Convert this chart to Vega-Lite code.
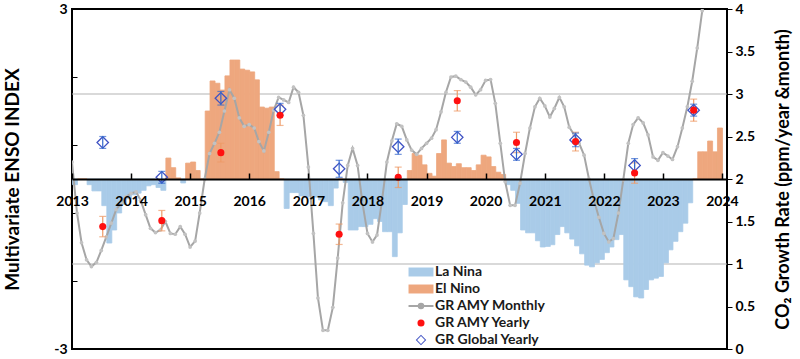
{
  "$schema": "https://vega.github.io/schema/vega-lite/v6.json",
  "width": 655,
  "height": 340,
  "autosize": {"type": "none"},
  "padding": {"left": 72, "top": 9, "right": 73, "bottom": 10},
  "background": "white",
  "config": {
    "view": {"stroke": "black", "strokeWidth": 2},
    "font": "Lato",
    "bar": {"binSpacing": 0},
    "axis": {"labelFont": "Lato", "titleFont": "Lato", "labelColor": "black", "titleColor": "black"}
  },
  "datasets": {
    "mei": [
      {"date": "2013-01", "mei": -0.1}, {"date": "2013-02", "mei": 0}, {"date": "2013-03", "mei": 0}, {"date": "2013-04", "mei": -0.1}, {"date": "2013-05", "mei": -0.21}, {"date": "2013-06", "mei": -0.21}, {"date": "2013-07", "mei": -0.47}, {"date": "2013-08", "mei": -1.13}, {"date": "2013-09", "mei": -0.9}, {"date": "2013-10", "mei": -0.6}, {"date": "2013-11", "mei": -0.45}, {"date": "2013-12", "mei": -0.35},
      {"date": "2014-01", "mei": -0.28}, {"date": "2014-02", "mei": -0.25}, {"date": "2014-03", "mei": -0.2}, {"date": "2014-04", "mei": -0.12}, {"date": "2014-05", "mei": -0.1}, {"date": "2014-06", "mei": -0.15}, {"date": "2014-07", "mei": -0.2}, {"date": "2014-08", "mei": 0.37}, {"date": "2014-09", "mei": 0.2}, {"date": "2014-10", "mei": 0.02}, {"date": "2014-11", "mei": -0.07}, {"date": "2014-12", "mei": 0.28},
      {"date": "2015-01", "mei": 0.3}, {"date": "2015-02", "mei": 0.15}, {"date": "2015-03", "mei": 0}, {"date": "2015-04", "mei": 1.2}, {"date": "2015-05", "mei": 1.73}, {"date": "2015-06", "mei": 1.69}, {"date": "2015-07", "mei": 1.57}, {"date": "2015-08", "mei": 1.82}, {"date": "2015-09", "mei": 2.1}, {"date": "2015-10", "mei": 2.1}, {"date": "2015-11", "mei": 1.94}, {"date": "2015-12", "mei": 1.92},
      {"date": "2016-01", "mei": 1.89}, {"date": "2016-02", "mei": 1.75}, {"date": "2016-03", "mei": 1.27}, {"date": "2016-04", "mei": 1.25}, {"date": "2016-05", "mei": 1.27}, {"date": "2016-06", "mei": 0.13}, {"date": "2016-07", "mei": 0}, {"date": "2016-08", "mei": -0.52}, {"date": "2016-09", "mei": -0.24}, {"date": "2016-10", "mei": -0.24}, {"date": "2016-11", "mei": -0.3}, {"date": "2016-12", "mei": -0.32},
      {"date": "2017-01", "mei": -0.3}, {"date": "2017-02", "mei": -0.32}, {"date": "2017-03", "mei": -0.37}, {"date": "2017-04", "mei": -0.4}, {"date": "2017-05", "mei": -0.47}, {"date": "2017-06", "mei": -0.16}, {"date": "2017-07", "mei": 0}, {"date": "2017-08", "mei": -0.06}, {"date": "2017-09", "mei": -0.9}, {"date": "2017-10", "mei": -0.9}, {"date": "2017-11", "mei": -0.84}, {"date": "2017-12", "mei": -0.84},
      {"date": "2018-01", "mei": -0.8}, {"date": "2018-02", "mei": -0.7}, {"date": "2018-03", "mei": -0.75}, {"date": "2018-04", "mei": -0.93}, {"date": "2018-05", "mei": -0.93}, {"date": "2018-06", "mei": -1.37}, {"date": "2018-07", "mei": -0.95}, {"date": "2018-08", "mei": -0.45}, {"date": "2018-09", "mei": 0.15}, {"date": "2018-10", "mei": 0.45}, {"date": "2018-11", "mei": 0.42}, {"date": "2018-12", "mei": 0.25},
      {"date": "2019-01", "mei": 0.1}, {"date": "2019-02", "mei": 0.05}, {"date": "2019-03", "mei": 0.45}, {"date": "2019-04", "mei": 0.69}, {"date": "2019-05", "mei": 0.28}, {"date": "2019-06", "mei": 0.22}, {"date": "2019-07", "mei": 0.27}, {"date": "2019-08", "mei": 0.2}, {"date": "2019-09", "mei": 0.2}, {"date": "2019-10", "mei": 0.15}, {"date": "2019-11", "mei": 0.25}, {"date": "2019-12", "mei": 0.42},
      {"date": "2020-01", "mei": 0.39}, {"date": "2020-02", "mei": 0.22}, {"date": "2020-03", "mei": 0.12}, {"date": "2020-04", "mei": 0.08}, {"date": "2020-05", "mei": -0.1}, {"date": "2020-06", "mei": -0.2}, {"date": "2020-07", "mei": -0.43}, {"date": "2020-08", "mei": -0.9}, {"date": "2020-09", "mei": -0.95}, {"date": "2020-10", "mei": -0.95}, {"date": "2020-11", "mei": -1.09}, {"date": "2020-12", "mei": -1.2},
      {"date": "2021-01", "mei": -1.19}, {"date": "2021-02", "mei": -1.16}, {"date": "2021-03", "mei": -0.98}, {"date": "2021-04", "mei": -0.84}, {"date": "2021-05", "mei": -0.95}, {"date": "2021-06", "mei": -1.06}, {"date": "2021-07", "mei": -1.18}, {"date": "2021-08", "mei": -1.32}, {"date": "2021-09", "mei": -1.52}, {"date": "2021-10", "mei": -1.55}, {"date": "2021-11", "mei": -1.48}, {"date": "2021-12", "mei": -1.42},
      {"date": "2022-01", "mei": -1.3}, {"date": "2022-02", "mei": -1.2}, {"date": "2022-03", "mei": -1.07}, {"date": "2022-04", "mei": -0.98}, {"date": "2022-05", "mei": -1.78}, {"date": "2022-06", "mei": -1.9}, {"date": "2022-07", "mei": -2.08}, {"date": "2022-08", "mei": -2.1}, {"date": "2022-09", "mei": -1.95}, {"date": "2022-10", "mei": -1.78}, {"date": "2022-11", "mei": -1.75}, {"date": "2022-12", "mei": -1.72},
      {"date": "2023-01", "mei": -1.48}, {"date": "2023-02", "mei": -1.25}, {"date": "2023-03", "mei": -1.1}, {"date": "2023-04", "mei": -0.93}, {"date": "2023-05", "mei": -0.78}, {"date": "2023-06", "mei": -0.42}, {"date": "2023-07", "mei": 0}, {"date": "2023-08", "mei": 0.48}, {"date": "2023-09", "mei": 0.48}, {"date": "2023-10", "mei": 0.67}, {"date": "2023-11", "mei": 0.48}, {"date": "2023-12", "mei": 0.9}
    ],
    "gr": [
      {"date": "2013-01-01", "gr": 2.2}, {"date": "2013-02-01", "gr": 1.6}, {"date": "2013-03-01", "gr": 1.25}, {"date": "2013-04-01", "gr": 1.05}, {"date": "2013-05-01", "gr": 0.97}, {"date": "2013-06-01", "gr": 1.02}, {"date": "2013-07-01", "gr": 1.16}, {"date": "2013-08-01", "gr": 1.32}, {"date": "2013-09-01", "gr": 1.48}, {"date": "2013-10-01", "gr": 1.64}, {"date": "2013-11-01", "gr": 1.72}, {"date": "2013-12-01", "gr": 1.79},
      {"date": "2014-01-01", "gr": 1.83}, {"date": "2014-02-01", "gr": 1.85}, {"date": "2014-03-01", "gr": 1.75}, {"date": "2014-04-01", "gr": 1.58}, {"date": "2014-05-01", "gr": 1.42}, {"date": "2014-06-01", "gr": 1.37}, {"date": "2014-07-01", "gr": 1.4}, {"date": "2014-08-01", "gr": 1.5}, {"date": "2014-09-01", "gr": 1.36}, {"date": "2014-10-01", "gr": 1.35}, {"date": "2014-11-01", "gr": 1.44}, {"date": "2014-12-01", "gr": 1.35},
      {"date": "2015-01-01", "gr": 1.2}, {"date": "2015-02-01", "gr": 1.27}, {"date": "2015-03-01", "gr": 1.6}, {"date": "2015-04-01", "gr": 2.0}, {"date": "2015-05-01", "gr": 2.3}, {"date": "2015-06-01", "gr": 2.42}, {"date": "2015-07-01", "gr": 2.55}, {"date": "2015-08-01", "gr": 2.8}, {"date": "2015-09-01", "gr": 3.05}, {"date": "2015-10-01", "gr": 2.95}, {"date": "2015-11-01", "gr": 2.72}, {"date": "2015-12-01", "gr": 2.62},
      {"date": "2016-01-01", "gr": 2.64}, {"date": "2016-02-01", "gr": 2.6}, {"date": "2016-03-01", "gr": 2.44}, {"date": "2016-04-01", "gr": 2.33}, {"date": "2016-05-01", "gr": 2.55}, {"date": "2016-06-01", "gr": 2.81}, {"date": "2016-07-01", "gr": 2.96}, {"date": "2016-08-01", "gr": 2.93}, {"date": "2016-09-01", "gr": 2.9}, {"date": "2016-10-01", "gr": 3.08}, {"date": "2016-11-01", "gr": 3.02}, {"date": "2016-12-01", "gr": 2.75},
      {"date": "2017-01-01", "gr": 2.14}, {"date": "2017-02-01", "gr": 1.36}, {"date": "2017-03-01", "gr": 0.6}, {"date": "2017-04-01", "gr": 0.22}, {"date": "2017-05-01", "gr": 0.22}, {"date": "2017-06-01", "gr": 0.49}, {"date": "2017-07-01", "gr": 1.07}, {"date": "2017-08-01", "gr": 1.72}, {"date": "2017-09-01", "gr": 2.16}, {"date": "2017-10-01", "gr": 2.36}, {"date": "2017-11-01", "gr": 2.16}, {"date": "2017-12-01", "gr": 1.72},
      {"date": "2018-01-01", "gr": 1.36}, {"date": "2018-02-01", "gr": 1.26}, {"date": "2018-03-01", "gr": 1.34}, {"date": "2018-04-01", "gr": 1.75}, {"date": "2018-05-01", "gr": 2.2}, {"date": "2018-06-01", "gr": 2.45}, {"date": "2018-07-01", "gr": 2.65}, {"date": "2018-08-01", "gr": 2.62}, {"date": "2018-09-01", "gr": 2.46}, {"date": "2018-10-01", "gr": 2.34}, {"date": "2018-11-01", "gr": 2.29}, {"date": "2018-12-01", "gr": 2.36},
      {"date": "2019-01-01", "gr": 2.42}, {"date": "2019-02-01", "gr": 2.48}, {"date": "2019-03-01", "gr": 2.58}, {"date": "2019-04-01", "gr": 2.79}, {"date": "2019-05-01", "gr": 3.02}, {"date": "2019-06-01", "gr": 3.2}, {"date": "2019-07-01", "gr": 3.21}, {"date": "2019-08-01", "gr": 3.17}, {"date": "2019-09-01", "gr": 3.14}, {"date": "2019-10-01", "gr": 3.08}, {"date": "2019-11-01", "gr": 2.99}, {"date": "2019-12-01", "gr": 3.05},
      {"date": "2020-01-01", "gr": 3.16}, {"date": "2020-02-01", "gr": 3.17}, {"date": "2020-03-01", "gr": 2.89}, {"date": "2020-04-01", "gr": 2.42}, {"date": "2020-05-01", "gr": 1.97}, {"date": "2020-06-01", "gr": 1.69}, {"date": "2020-07-01", "gr": 1.69}, {"date": "2020-08-01", "gr": 1.95}, {"date": "2020-09-01", "gr": 2.3}, {"date": "2020-10-01", "gr": 2.6}, {"date": "2020-11-01", "gr": 2.85}, {"date": "2020-12-01", "gr": 2.95},
      {"date": "2021-01-01", "gr": 2.86}, {"date": "2021-02-01", "gr": 2.73}, {"date": "2021-03-01", "gr": 2.83}, {"date": "2021-04-01", "gr": 2.96}, {"date": "2021-05-01", "gr": 2.85}, {"date": "2021-06-01", "gr": 2.61}, {"date": "2021-07-01", "gr": 2.52}, {"date": "2021-08-01", "gr": 2.42}, {"date": "2021-09-01", "gr": 2.28}, {"date": "2021-10-01", "gr": 2.0}, {"date": "2021-11-01", "gr": 1.75}, {"date": "2021-12-01", "gr": 1.55},
      {"date": "2022-01-01", "gr": 1.36}, {"date": "2022-02-01", "gr": 1.26}, {"date": "2022-03-01", "gr": 1.3}, {"date": "2022-04-01", "gr": 1.6}, {"date": "2022-05-01", "gr": 1.99}, {"date": "2022-06-01", "gr": 2.42}, {"date": "2022-07-01", "gr": 2.64}, {"date": "2022-08-01", "gr": 2.72}, {"date": "2022-09-01", "gr": 2.66}, {"date": "2022-10-01", "gr": 2.52}, {"date": "2022-11-01", "gr": 2.26}, {"date": "2022-12-01", "gr": 2.22},
      {"date": "2023-01-01", "gr": 2.31}, {"date": "2023-02-01", "gr": 2.27}, {"date": "2023-03-01", "gr": 2.23}, {"date": "2023-04-01", "gr": 2.38}, {"date": "2023-05-01", "gr": 2.6}, {"date": "2023-06-01", "gr": 2.85}, {"date": "2023-07-01", "gr": 3.15}, {"date": "2023-08-01", "gr": 3.54}, {"date": "2023-09-01", "gr": 3.98}, {"date": "2023-10-01", "gr": 4.6}
    ],
    "yearly": [
      {"date": "2013-07-10", "amy": 1.44, "amyErr": 0.12, "glob": 2.43, "globErr": 0.07},
      {"date": "2014-07-10", "amy": 1.51, "amyErr": 0.12, "glob": 2.02, "globErr": 0.07},
      {"date": "2015-07-10", "amy": 2.31, "amyErr": 0.11, "glob": 2.95, "globErr": 0.08},
      {"date": "2016-07-10", "amy": 2.75, "amyErr": 0.12, "glob": 2.82, "globErr": 0.07},
      {"date": "2017-07-10", "amy": 1.35, "amyErr": 0.12, "glob": 2.12, "globErr": 0.1},
      {"date": "2018-07-10", "amy": 2.02, "amyErr": 0.12, "glob": 2.38, "globErr": 0.09},
      {"date": "2019-07-10", "amy": 2.92, "amyErr": 0.12, "glob": 2.49, "globErr": 0.07},
      {"date": "2020-07-10", "amy": 2.43, "amyErr": 0.12, "glob": 2.29, "globErr": 0.07},
      {"date": "2021-07-10", "amy": 2.44, "amyErr": 0.11, "glob": 2.46, "globErr": 0.08},
      {"date": "2022-07-10", "amy": 2.07, "amyErr": 0.12, "glob": 2.16, "globErr": 0.08},
      {"date": "2023-07-10", "amy": 2.81, "amyErr": 0.13, "glob": 2.81, "globErr": 0.07}
    ],
    "grid": [{"level": 1.5}, {"level": -1.5}]
  },
  "layer": [
    {
      "data": {"name": "grid"},
      "mark": {"type": "rule", "color": "#b4b4b4", "strokeWidth": 1.2},
      "encoding": {
        "y": {"field": "level", "type": "quantitative", "scale": {"domain": [-3, 3], "nice": false}, "axis": null}
      }
    },
    {
      "layer": [
        {
          "data": {"name": "mei"},
          "transform": [{"filter": "datum.mei < 0"}],
          "mark": {"type": "bar", "binSpacing": 0, "stroke": "#a9cbe8", "strokeWidth": 0.8},
          "encoding": {
            "x": {
              "field": "date", "timeUnit": "utcyearmonth", "type": "temporal", "title": null,
              "scale": {"type": "utc", "domain": [{"year": 2013, "month": 1, "date": 1, "utc": true}, {"year": 2024, "month": 2, "date": 1, "utc": true}]},
              "axis": {
                "values": [{"year": 2013, "utc": true}, {"year": 2014, "utc": true}, {"year": 2015, "utc": true}, {"year": 2016, "utc": true}, {"year": 2017, "utc": true}, {"year": 2018, "utc": true}, {"year": 2019, "utc": true}, {"year": 2020, "utc": true}, {"year": 2021, "utc": true}, {"year": 2022, "utc": true}, {"year": 2023, "utc": true}, {"year": 2024, "utc": true}],
                "labelExpr": "utcFormat(datum.value, '%Y')",
                "offset": -170, "tickSize": -6, "tickColor": "black", "tickWidth": 1.5,
                "domainColor": "black", "domainWidth": 2, "labelFontSize": 14, "labelFontWeight": "bold", "labelPadding": 21,
                "grid": false, "zindex": 1, "labelFlush": false, "labelOverlap": false, "title": null
              }
            },
            "y": {
              "field": "mei", "type": "quantitative", "title": "Multivariate ENSO INDEX",
              "scale": {"domain": [-3, 3], "nice": false},
              "axis": {
                "orient": "left",
                "values": [-3, -2.7, -2.4, -2.1, -1.8, -1.5, -1.2, -0.9, -0.6, -0.3, 0, 0.3, 0.6, 0.9, 1.2, 1.5, 1.8, 2.1, 2.4, 2.7, 3],
                "labelExpr": "datum.value == 3 ? '3' : datum.value == 1.5 ? '1.5' : datum.value == 0 ? '0' : datum.value == -1.5 ? '-1.5' : datum.value == -3 ? '-3' : ''",
                "labelOverlap": false,
                "tickSize": -5, "tickColor": "black", "tickWidth": 1, "domain": false, "grid": false,
                "labelFontSize": 14, "labelFontWeight": "bold", "labelPadding": 10,
                "titleFontSize": 19, "titleFontWeight": "bold", "titlePadding": 31
              }
            },
            "color": {
              "datum": "La Nina",
              "scale": {
                "domain": ["La Nina", "El Nino", "GR AMY Monthly", "GR AMY Yearly", "GR Global Yearly"],
                "range": ["#a9cbe8", "#eea77e", "#a6a6a6", "#ff1010", "#3f52c4"]
              },
              "legend": {
                "orient": "none", "legendX": 342, "legendY": 256, "title": null, "padding": 0,
                "labelFont": "Lato", "labelFontSize": 14, "labelFontWeight": "bold", "labelColor": "#1a1a1a",
                "symbolSize": 169, "labelOffset": 7, "rowPadding": 3,
                "encode": {"symbols": {"update": {
                  "shape": {"signal": "datum.value == 'GR AMY Yearly' ? 'circle' : datum.value == 'GR Global Yearly' ? 'M0,-1L1,0L0,1L-1,0ZM0,-0.74L-0.74,0L0,0.74L0.74,0Z' : datum.value == 'GR AMY Monthly' ? 'M-1.92,0H1.92M-0.35,0A0.35,0.35,0,1,0,0.35,0A0.35,0.35,0,1,0,-0.35,0Z' : 'M-1.92,-0.69H1.92V0.69H-1.92Z'"},
                  "size": {"signal": "datum.value == 'GR AMY Yearly' ? 50 : datum.value == 'GR Global Yearly' ? 110 : 169"},
                  "fill": {"signal": "scale('color', datum.value)"},
                  "stroke": {"signal": "scale('color', datum.value)"},
                  "strokeWidth": {"signal": "datum.value == 'GR AMY Monthly' ? 2 : 0"},
                  "opacity": {"value": 1}
                }}}
              }
            }
          }
        },
        {
          "data": {"name": "mei"},
          "transform": [{"filter": "datum.mei >= 0"}],
          "mark": {"type": "bar", "binSpacing": 0, "stroke": "#eea77e", "strokeWidth": 0.8},
          "encoding": {
            "x": {"field": "date", "timeUnit": "utcyearmonth", "type": "temporal", "title": null},
            "y": {"field": "mei", "type": "quantitative", "title": "Multivariate ENSO INDEX"},
            "color": {
              "datum": "El Nino",
              "legend": {
                "orient": "none", "legendX": 342, "legendY": 256, "title": null, "padding": 0,
                "labelFont": "Lato", "labelFontSize": 14, "labelFontWeight": "bold", "labelColor": "#1a1a1a",
                "symbolSize": 169, "labelOffset": 7, "rowPadding": 3,
                "encode": {"symbols": {"update": {
                  "shape": {"signal": "datum.value == 'GR AMY Yearly' ? 'circle' : datum.value == 'GR Global Yearly' ? 'M0,-1L1,0L0,1L-1,0ZM0,-0.74L-0.74,0L0,0.74L0.74,0Z' : datum.value == 'GR AMY Monthly' ? 'M-1.92,0H1.92M-0.35,0A0.35,0.35,0,1,0,0.35,0A0.35,0.35,0,1,0,-0.35,0Z' : 'M-1.92,-0.69H1.92V0.69H-1.92Z'"},
                  "size": {"signal": "datum.value == 'GR AMY Yearly' ? 50 : datum.value == 'GR Global Yearly' ? 110 : 169"},
                  "fill": {"signal": "scale('color', datum.value)"},
                  "stroke": {"signal": "scale('color', datum.value)"},
                  "strokeWidth": {"signal": "datum.value == 'GR AMY Monthly' ? 2 : 0"},
                  "opacity": {"value": 1}
                }}}
              }
            }
          }
        }
      ]
    },
    {
      "layer": [
        {
          "data": {"name": "gr"},
          "mark": {"type": "line", "strokeWidth": 2, "clip": true},
          "encoding": {
            "x": {"field": "date", "type": "temporal", "scale": {"type": "utc"}, "title": null},
            "y": {
              "field": "gr", "type": "quantitative", "title": "CO₂ Growth Rate (ppm/year &month)",
              "scale": {"domain": [0, 4], "nice": false, "zero": false},
              "axis": {
                "orient": "right",
                "values": [0, 0.5, 1, 1.5, 2, 2.5, 3, 3.5, 4],
                "format": "~g", "labelOverlap": false,
                "tickSize": 5, "tickColor": "black", "tickWidth": 1, "domain": false, "grid": false,
                "labelFontSize": 14, "labelFontWeight": "bold", "labelPadding": 3,
                "titleAngle": 270, "titleFontSize": 18, "titleFontWeight": "bold", "titlePadding": 38
              }
            },
            "color": {
              "datum": "GR AMY Monthly",
              "legend": {
                "orient": "none", "legendX": 342, "legendY": 256, "title": null, "padding": 0,
                "labelFont": "Lato", "labelFontSize": 14, "labelFontWeight": "bold", "labelColor": "#1a1a1a",
                "symbolSize": 169, "labelOffset": 7, "rowPadding": 3,
                "encode": {"symbols": {"update": {
                  "shape": {"signal": "datum.value == 'GR AMY Yearly' ? 'circle' : datum.value == 'GR Global Yearly' ? 'M0,-1L1,0L0,1L-1,0ZM0,-0.74L-0.74,0L0,0.74L0.74,0Z' : datum.value == 'GR AMY Monthly' ? 'M-1.92,0H1.92M-0.35,0A0.35,0.35,0,1,0,0.35,0A0.35,0.35,0,1,0,-0.35,0Z' : 'M-1.92,-0.69H1.92V0.69H-1.92Z'"},
                  "size": {"signal": "datum.value == 'GR AMY Yearly' ? 50 : datum.value == 'GR Global Yearly' ? 110 : 169"},
                  "fill": {"signal": "scale('color', datum.value)"},
                  "stroke": {"signal": "scale('color', datum.value)"},
                  "strokeWidth": {"signal": "datum.value == 'GR AMY Monthly' ? 2 : 0"},
                  "opacity": {"value": 1}
                }}}
              }
            }
          }
        },
        {
          "data": {"name": "gr"},
          "mark": {"type": "point", "filled": true, "size": 14, "color": "#c2c2c2", "opacity": 1, "clip": true},
          "encoding": {
            "x": {"field": "date", "type": "temporal", "scale": {"type": "utc"}, "title": null},
            "y": {"field": "gr", "type": "quantitative", "title": "CO₂ Growth Rate (ppm/year &month)"}
          }
        },
        {
          "data": {"name": "yearly"},
          "mark": {"type": "errorbar", "ticks": {"size": 7}, "color": "#ee9a66", "thickness": 1.2},
          "encoding": {
            "x": {"field": "date", "type": "temporal", "scale": {"type": "utc"}, "title": null},
            "y": {"field": "amy", "type": "quantitative", "title": "CO₂ Growth Rate (ppm/year &month)"},
            "yError": {"field": "amyErr"}
          }
        },
        {
          "data": {"name": "yearly"},
          "mark": {"type": "point", "shape": "diamond", "filled": false, "size": 130, "strokeWidth": 1.3, "opacity": 1},
          "encoding": {
            "x": {"field": "date", "type": "temporal", "scale": {"type": "utc"}, "title": null},
            "y": {"field": "glob", "type": "quantitative", "title": "CO₂ Growth Rate (ppm/year &month)"},
            "color": {
              "datum": "GR Global Yearly",
              "legend": {
                "orient": "none", "legendX": 342, "legendY": 256, "title": null, "padding": 0,
                "labelFont": "Lato", "labelFontSize": 14, "labelFontWeight": "bold", "labelColor": "#1a1a1a",
                "symbolSize": 169, "labelOffset": 7, "rowPadding": 3,
                "encode": {"symbols": {"update": {
                  "shape": {"signal": "datum.value == 'GR AMY Yearly' ? 'circle' : datum.value == 'GR Global Yearly' ? 'M0,-1L1,0L0,1L-1,0ZM0,-0.74L-0.74,0L0,0.74L0.74,0Z' : datum.value == 'GR AMY Monthly' ? 'M-1.92,0H1.92M-0.35,0A0.35,0.35,0,1,0,0.35,0A0.35,0.35,0,1,0,-0.35,0Z' : 'M-1.92,-0.69H1.92V0.69H-1.92Z'"},
                  "size": {"signal": "datum.value == 'GR AMY Yearly' ? 50 : datum.value == 'GR Global Yearly' ? 110 : 169"},
                  "fill": {"signal": "scale('color', datum.value)"},
                  "stroke": {"signal": "scale('color', datum.value)"},
                  "strokeWidth": {"signal": "datum.value == 'GR AMY Monthly' ? 2 : 0"},
                  "opacity": {"value": 1}
                }}}
              }
            }
          }
        },
        {
          "data": {"name": "yearly"},
          "mark": {"type": "errorbar", "ticks": {"size": 7}, "color": "#3366cc", "thickness": 1.2},
          "encoding": {
            "x": {"field": "date", "type": "temporal", "scale": {"type": "utc"}, "title": null},
            "y": {"field": "glob", "type": "quantitative", "title": "CO₂ Growth Rate (ppm/year &month)"},
            "yError": {"field": "globErr"}
          }
        },
        {
          "data": {"name": "yearly"},
          "mark": {"type": "circle", "size": 50, "opacity": 1},
          "encoding": {
            "x": {"field": "date", "type": "temporal", "scale": {"type": "utc"}, "title": null},
            "y": {"field": "amy", "type": "quantitative", "title": "CO₂ Growth Rate (ppm/year &month)"},
            "color": {
              "datum": "GR AMY Yearly",
              "legend": {
                "orient": "none", "legendX": 342, "legendY": 256, "title": null, "padding": 0,
                "labelFont": "Lato", "labelFontSize": 14, "labelFontWeight": "bold", "labelColor": "#1a1a1a",
                "symbolSize": 169, "labelOffset": 7, "rowPadding": 3,
                "encode": {"symbols": {"update": {
                  "shape": {"signal": "datum.value == 'GR AMY Yearly' ? 'circle' : datum.value == 'GR Global Yearly' ? 'M0,-1L1,0L0,1L-1,0ZM0,-0.74L-0.74,0L0,0.74L0.74,0Z' : datum.value == 'GR AMY Monthly' ? 'M-1.92,0H1.92M-0.35,0A0.35,0.35,0,1,0,0.35,0A0.35,0.35,0,1,0,-0.35,0Z' : 'M-1.92,-0.69H1.92V0.69H-1.92Z'"},
                  "size": {"signal": "datum.value == 'GR AMY Yearly' ? 50 : datum.value == 'GR Global Yearly' ? 110 : 169"},
                  "fill": {"signal": "scale('color', datum.value)"},
                  "stroke": {"signal": "scale('color', datum.value)"},
                  "strokeWidth": {"signal": "datum.value == 'GR AMY Monthly' ? 2 : 0"},
                  "opacity": {"value": 1}
                }}}
              }
            }
          }
        }
      ]
    }
  ],
  "resolve": {"scale": {"y": "independent"}}
}
